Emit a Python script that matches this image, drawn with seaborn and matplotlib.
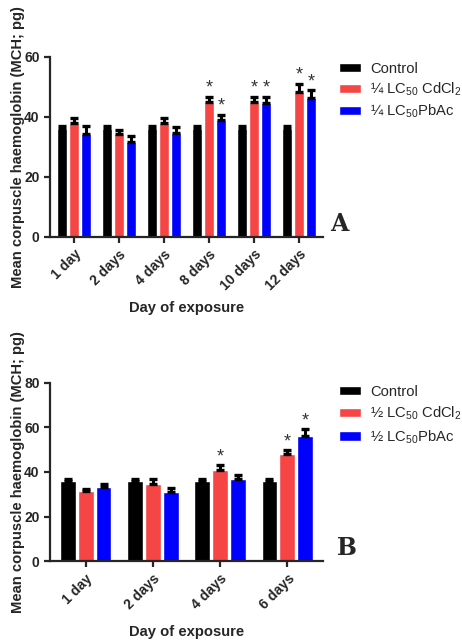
import matplotlib
matplotlib.use("Agg")
import matplotlib.pyplot as plt
import seaborn as sns
import pandas as pd
import numpy as np

# Panel A: quarter LC50, six exposure times
days_a = ['1 day', '2 days', '4 days', '8 days', '10 days', '12 days']
ctrl_a = [36.0, 36.0, 36.0, 36.0, 36.0, 36.0]
ctrl_a_err = [1.1, 1.1, 1.1, 1.1, 1.1, 1.1]
cd_a = [38.0, 34.2, 38.0, 45.0, 45.1, 48.3]
cd_a_err = [1.6, 1.6, 1.8, 1.7, 1.6, 2.7]
pb_a = [34.4, 31.8, 34.7, 39.0, 44.7, 46.3]
pb_a_err = [2.7, 2.0, 2.0, 1.7, 2.0, 2.6]
cd_a_sig = [0, 0, 0, 1, 1, 1]
pb_a_sig = [0, 0, 0, 1, 1, 1]

# Panel B: half LC50, four exposure times
days_b = ['1 day', '2 days', '4 days', '6 days']
ctrl_b = [36.0, 36.0, 36.0, 36.0]
ctrl_b_err = [1.0, 1.0, 1.0, 1.0]
cd_b = [31.5, 34.6, 40.8, 47.9]
cd_b_err = [1.0, 2.3, 2.1, 1.8]
pb_b = [33.3, 31.0, 36.9, 56.0]
pb_b_err = [1.3, 1.7, 1.8, 3.1]
cd_b_sig = [0, 0, 1, 1]
pb_b_sig = [0, 0, 0, 1]

groups_a = ['Control', '¼ LC$_{50}$ CdCl$_2$', '¼ LC$_{50}$PbAc']
groups_b = ['Control', '½ LC$_{50}$ CdCl$_2$', '½ LC$_{50}$PbAc']
colors = ['#000000', '#F54545', '#0000FF']

sns.set_style("ticks")
plt.rcParams['font.family'] = ['Liberation Sans', 'DejaVu Sans']
plt.rcParams['mathtext.fontset'] = 'custom'
plt.rcParams['mathtext.rm'] = 'Liberation Sans'
plt.rcParams['mathtext.it'] = 'Liberation Sans'
plt.rcParams['mathtext.default'] = 'regular'


def panel(ax, days, groups, vals, errs, sigs, ymax, letter, leg_y,
          leg_space, letter_x):
    rows = []
    for g, v in zip(groups, vals):
        for d, y in zip(days, v):
            rows.append({'day': d, 'group': g, 'value': y})
    df = pd.DataFrame(rows)
    sns.barplot(data=df, x='day', y='value', hue='group', order=days,
                hue_order=groups, palette=colors, errorbar=None,
                width=0.8, gap=0.12, saturation=1, ax=ax)

    # upward-only SEM bars and significance stars
    for cont, err, sig in zip(ax.containers, errs, sigs):
        xs = np.array([b.get_x() + b.get_width() / 2 for b in cont])
        hs = np.array([b.get_height() for b in cont])
        ax.errorbar(xs, hs, yerr=[np.zeros(len(hs)), err], fmt='none',
                    ecolor='black', elinewidth=2.2, capsize=2.8,
                    capthick=2.4)
        for x, h, e, s in zip(xs, hs, err, sig):
            if s:
                ax.annotate('*', xy=(x, h + e), xytext=(0, 0),
                            textcoords='offset points', ha='center',
                            va='bottom', fontsize=13, color='#333333')

    ax.set_ylim(0, ymax)
    ax.set_yticks(np.arange(0, ymax + 1, 20))
    ax.set_xlim(-0.53, len(days) - 0.47)
    sns.despine(ax=ax)
    for sp in ['left', 'bottom']:
        ax.spines[sp].set_linewidth(1.6)
    ax.tick_params(width=1.6, length=4, labelsize=10)
    for t in ax.get_yticklabels() + ax.get_xticklabels():
        t.set_fontweight('bold')
    plt.setp(ax.get_xticklabels(), rotation=45, ha='right',
             rotation_mode='anchor')
    ax.set_ylabel('Mean corpuscle haemoglobin (MCH; pg)', fontsize=10.6,
                  fontweight='bold')
    ax.yaxis.set_label_coords(-0.09, 0.5)
    ax.set_xlabel('Day of exposure', fontsize=10.6, fontweight='bold')
    ax.xaxis.set_label_coords(0.5, -0.355)

    h, l = ax.get_legend_handles_labels()
    ax.legend(h, l, loc='upper left', bbox_to_anchor=(1.059, leg_y),
              frameon=False, fontsize=10.6, handlelength=1.5,
              handleheight=0.6, handletextpad=0.6, labelspacing=leg_space,
              borderaxespad=0, borderpad=0)
    ax.text(letter_x, 0.008, letter, transform=ax.transAxes, fontsize=17,
            fontweight='bold', family='DejaVu Serif', va='bottom')


fig = plt.figure(figsize=(4.62, 6.41), dpi=100)
ax_a = fig.add_axes([0.1082, 0.6303, 0.591, 0.2808])
ax_b = fig.add_axes([0.1082, 0.1243, 0.591, 0.2788])

panel(ax_a, days_a, groups_a, [ctrl_a, cd_a, pb_a],
      [ctrl_a_err, cd_a_err, pb_a_err], [[0] * 6, cd_a_sig, pb_a_sig],
      60, 'A', 0.974, 0.33, 1.026)
panel(ax_b, days_b, groups_b, [ctrl_b, cd_b, pb_b],
      [ctrl_b_err, cd_b_err, pb_b_err], [[0] * 4, cd_b_sig, pb_b_sig],
      80, 'B', 0.989, 0.42, 1.051)

fig.savefig('out.png', dpi=100)
